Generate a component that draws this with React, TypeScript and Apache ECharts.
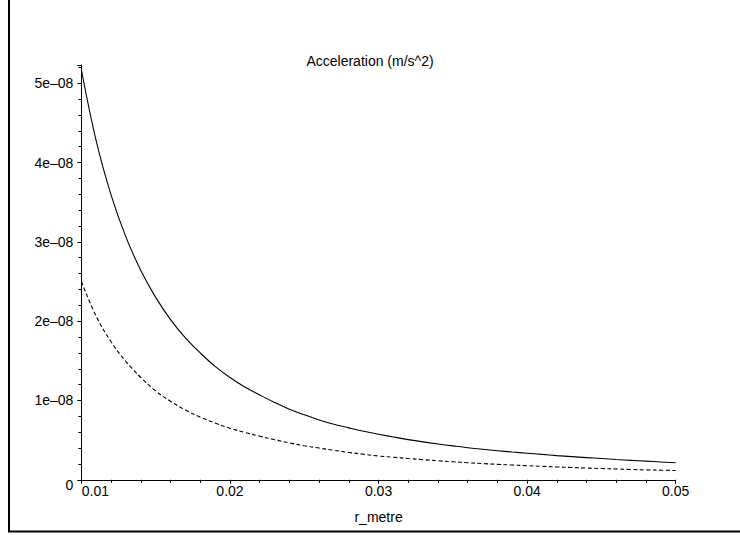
import React, { useEffect, useRef } from "react";
import * as echarts from "echarts";

// r in metres
const rValues = [
  0.010, 0.011, 0.012, 0.013, 0.014, 0.015, 0.016, 0.017, 0.018, 0.019,
  0.020, 0.021, 0.022, 0.023, 0.024, 0.025, 0.026, 0.027, 0.028, 0.029,
  0.030, 0.031, 0.032, 0.033, 0.034, 0.035, 0.036, 0.037, 0.038, 0.039,
  0.040, 0.041, 0.042, 0.043, 0.044, 0.045, 0.046, 0.047, 0.048, 0.049,
  0.050,
];
// solid curve, in units of 1e-8 m/s^2
const solidValues = [
  5.17, 4.27, 3.59, 3.06, 2.64, 2.30, 2.02, 1.79, 1.60, 1.43,
  1.29, 1.17, 1.07, 0.975, 0.89, 0.82, 0.755, 0.70, 0.655, 0.612,
  0.575, 0.54, 0.507, 0.478, 0.452, 0.428, 0.405, 0.385, 0.367, 0.35,
  0.335, 0.32, 0.305, 0.292, 0.280, 0.268, 0.256, 0.245, 0.235, 0.225,
  0.215,
];
// dashed curve, in units of 1e-8 m/s^2
const dashedValues = [
  2.50, 2.06, 1.74, 1.49, 1.29, 1.12, 0.99, 0.88, 0.79, 0.715,
  0.65, 0.597, 0.55, 0.506, 0.465, 0.43, 0.40, 0.372, 0.345, 0.322,
  0.30, 0.284, 0.268, 0.254, 0.240, 0.227, 0.215, 0.205, 0.195, 0.186,
  0.178, 0.17, 0.162, 0.155, 0.148, 0.142, 0.136, 0.13, 0.125, 0.121,
  0.117,
];
const yScale = 1e-8;
const titleText = "Acceleration (m/s^2)";
const xName = "r_metre";

const FONT = "'Liberation Sans', Arial, Helvetica, sans-serif";

export default function App() {
  const ref = useRef<HTMLDivElement>(null);
  useEffect(() => {
    if (!ref.current) return;
    const chart = echarts.init(ref.current, null, { renderer: "svg" });
    const solid = rValues.map((r, i) => [r, solidValues[i] * yScale]);
    const dashed = rValues.map((r, i) => [r, dashedValues[i] * yScale]);
    chart.setOption({
      animation: false,
      backgroundColor: "#ffffff",
      textStyle: { fontFamily: FONT, color: "#000" },
      title: {
        text: titleText,
        left: "center",
        top: 49,
        textStyle: { fontFamily: FONT, fontSize: 14, fontWeight: "normal", color: "#000" },
      },
      grid: { left: 81.4, right: 64.3, top: 65, bottom: 55.2, containLabel: false },
      xAxis: {
        type: "value",
        min: 0.01,
        max: 0.05,
        interval: 0.01,
        name: xName,
        nameLocation: "middle",
        nameGap: 30,
        nameTextStyle: { fontFamily: FONT, fontSize: 14, color: "#000" },
        axisLine: { show: true, onZero: false, lineStyle: { color: "#000", width: 1 } },
        axisTick: { show: true, length: 4, lineStyle: { color: "#000" } },
        minorTick: { show: true, splitNumber: 5, length: 3, lineStyle: { color: "#000" } },
        splitLine: { show: false },
        axisLabel: {
          color: "#000",
          fontFamily: FONT,
          fontSize: 14,
          margin: 4,
          formatter: (v: number) => {
            const s = v.toFixed(2);
            return Math.abs(v - 0.01) < 1e-9 ? "{f|" + s + "}" : s;
          },
          rich: {
            f: { padding: [0, 0, 0, 28], fontFamily: FONT, fontSize: 14, color: "#000" },
          },
        },
      },
      yAxis: {
        type: "value",
        min: 0,
        max: 5.23e-8,
        interval: 1e-8,
        axisLine: { show: true, lineStyle: { color: "#000", width: 1 } },
        axisTick: { show: true, length: 4, lineStyle: { color: "#000" } },
        minorTick: { show: true, splitNumber: 5, length: 3, lineStyle: { color: "#000" } },
        splitLine: { show: false },
        axisLabel: {
          color: "#000",
          fontFamily: FONT,
          fontSize: 14,
          margin: 8,
          showMaxLabel: false,
          formatter: (v: number) => {
            if (v === 0) return "{z|0}";
            const k = Math.round(v / 1e-8);
            if (Math.abs(v - k * 1e-8) > 1e-12) return "";
            return k + "e\u201308";
          },
          rich: {
            z: { padding: [11, 0, 0, 0], fontFamily: FONT, fontSize: 14, color: "#000" },
          },
        },
      },
      series: [
        {
          type: "line",
          data: solid,
          smooth: 0.4,
          symbol: "none",
          lineStyle: { color: "#000", width: 1.1, type: "solid" },
        },
        {
          type: "line",
          data: dashed,
          smooth: 0.4,
          symbol: "none",
          lineStyle: { color: "#000", width: 1.1, type: [4, 2.5] },
        },
      ],
      graphic: [
        { type: "line", shape: { x1: 9, y1: 0, x2: 9, y2: 532 }, style: { stroke: "#000", lineWidth: 2 } },
        { type: "line", shape: { x1: 8, y1: 531.5, x2: 740, y2: 531.5 }, style: { stroke: "#000", lineWidth: 2 } },
      ],
    });
    return () => chart.dispose();
  }, []);
  return (
    <div
      ref={ref}
      style={{ position: "fixed", left: 0, top: 0, width: 740, height: 535 }}
    />
  );
}
